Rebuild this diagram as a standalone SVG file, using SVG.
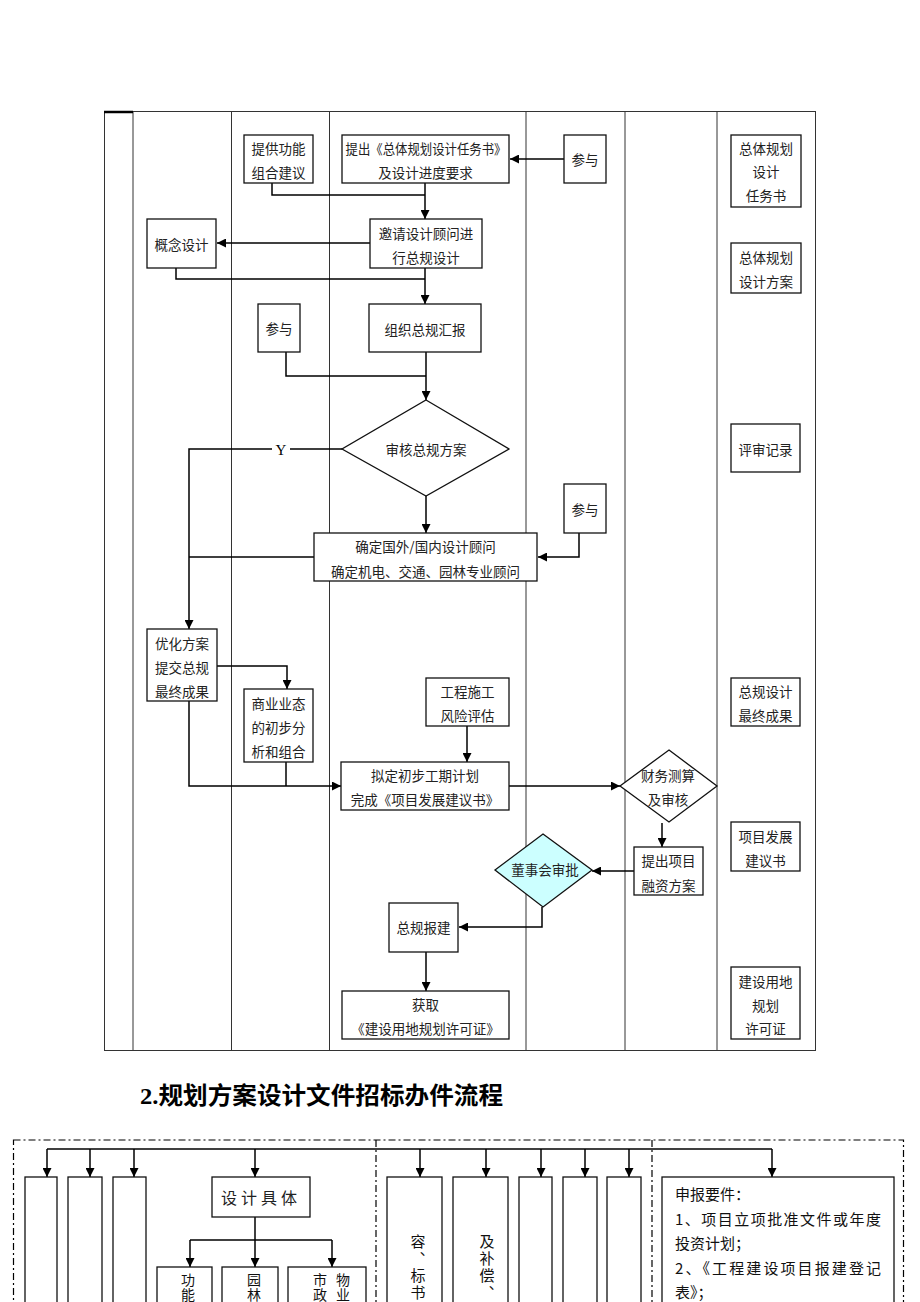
<svg xmlns="http://www.w3.org/2000/svg" width="920" height="1302" viewBox="0 0 920 1302">
<defs>
<style>
.lane{fill:none;stroke:#333;stroke-width:1}
.box{fill:#fff;stroke:#111;stroke-width:1.3}
.t{font-family:"Noto Sans CJK SC","Liberation Sans",sans-serif;font-size:13.5px;fill:#222;text-anchor:middle;dominant-baseline:central}
.c{fill:none;stroke:#000;stroke-width:1.5}
.ca{fill:none;stroke:#000;stroke-width:1.5;marker-end:url(#ah)}
.dd{fill:none;stroke:#000;stroke-width:1.2;stroke-dasharray:7 3 2 3}
.v{font-family:"Noto Sans CJK SC","Liberation Sans",sans-serif;font-size:15px;fill:#111;writing-mode:vertical-rl;letter-spacing:2px}
.vs{font-family:"Noto Sans CJK SC","Liberation Sans",sans-serif;font-size:14px;fill:#111;writing-mode:vertical-rl;letter-spacing:1px}
.r{font-family:"Noto Sans CJK SC","Liberation Sans",sans-serif;font-size:15px;fill:#111}
</style>
<marker id="ah" viewBox="0 0 10 10" refX="10" refY="5" markerWidth="9" markerHeight="9" orient="auto" markerUnits="userSpaceOnUse">
<path d="M0,0 L10,5 L0,10 z" fill="#000"/>
</marker>
</defs>
<rect width="920" height="1302" fill="#fff"/>

<g id="lanes">
<rect class="lane" x="104.5" y="111.5" width="711" height="939"/>
<line class="lane" x1="133" y1="111" x2="133" y2="1050"/>
<line class="lane" x1="231.5" y1="111" x2="231.5" y2="1050"/>
<line class="lane" x1="329.5" y1="111" x2="329.5" y2="1050"/>
<line class="lane" x1="526" y1="111" x2="526" y2="1050"/>
<line class="lane" x1="625" y1="111" x2="625" y2="1050"/>
<line class="lane" x1="717" y1="111" x2="717" y2="1050"/>
<line x1="104" y1="112" x2="133" y2="112" stroke="#000" stroke-width="2.5"/>
</g>

<g id="connectors">
<line class="ca" x1="606" y1="159" x2="510" y2="159"/>
<line class="ca" x1="425" y1="183" x2="425" y2="219"/>
<polyline class="c" points="272,183 272,195 425,195"/>
<line class="ca" x1="370" y1="243" x2="217" y2="243"/>
<polyline class="c" points="176,268 176,279 425,279"/>
<line class="ca" x1="425" y1="268" x2="425" y2="304"/>
<polyline class="c" points="286,352 286,376 426,376"/>
<line class="ca" x1="426" y1="352" x2="426" y2="400"/>
<polyline class="ca" points="342,449 189,449 189,629"/>
<line class="ca" x1="426" y1="496" x2="426" y2="533"/>
<line class="c" x1="314" y1="557" x2="189" y2="557"/>
<polyline class="ca" points="579,533 579,557 538,557"/>
<polyline class="ca" points="217,666 287,666 287,689"/>
<polyline class="ca" points="189,701 189,786 341,786"/>
<polyline class="c" points="286,762 286,786"/>
<line class="ca" x1="467" y1="726" x2="467" y2="762"/>
<line class="ca" x1="509" y1="786" x2="620" y2="786"/>
<line class="ca" x1="662" y1="823" x2="662" y2="847"/>
<line class="ca" x1="634" y1="871" x2="592" y2="871"/>
<polyline class="ca" points="542,907 542,927 459,927"/>
<line class="ca" x1="426" y1="952" x2="426" y2="991"/>
<rect x="272" y="441" width="18" height="17" fill="#fff"/>
<text x="281" y="450" font-family="Liberation Serif,serif" font-size="15" text-anchor="middle" dominant-baseline="central" fill="#000">Y</text>
</g>

<g id="n-tigong"><rect class="box" x="244" y="135" width="69" height="48"/><text class="t" x="278.5" y="148">提供功能</text><text class="t" x="278.5" y="172">组合建议</text></g>
<g id="n-tichu"><rect class="box" x="342" y="135" width="167" height="48"/><text class="t" x="426" y="148" textLength="161" lengthAdjust="spacingAndGlyphs">提出《总体规划设计任务书》</text><text class="t" x="425.5" y="172">及设计进度要求</text></g>
<g id="n-canyu1"><rect class="box" x="564" y="135" width="42" height="48"/><text class="t" x="585" y="159">参与</text></g>
<g id="n-doc1"><rect class="box" x="731" y="135" width="70" height="72"/><text class="t" x="766" y="148">总体规划</text><text class="t" x="766" y="171">设计</text><text class="t" x="766" y="195">任务书</text></g>
<g id="n-doc2"><rect class="box" x="731" y="243" width="70" height="50"/><text class="t" x="766" y="257">总体规划</text><text class="t" x="766" y="281">设计方案</text></g>
<g id="n-yaoqing"><rect class="box" x="370" y="219" width="112" height="49"/><text class="t" x="426" y="233">邀请设计顾问进</text><text class="t" x="426" y="257">行总规设计</text></g>
<g id="n-gainian"><rect class="box" x="147" y="219" width="69" height="49"/><text class="t" x="181.5" y="243.5">概念设计</text></g>
<g id="n-canyu2"><rect class="box" x="258" y="304" width="42" height="48"/><text class="t" x="279" y="328">参与</text></g>
<g id="n-zuzhi"><rect class="box" x="369" y="304" width="112" height="48"/><text class="t" x="425" y="329">组织总规汇报</text></g>
<g id="n-shenhe"><polygon class="box" points="426,400 509,449 426,496 342,449"/><text class="t" x="426" y="449">审核总规方案</text></g>
<g id="n-queding"><rect class="box" x="314" y="533" width="223" height="48"/><text class="t" x="425.5" y="546">确定国外/国内设计顾问</text><text class="t" x="425.5" y="571">确定机电、交通、园林专业顾问</text></g>
<g id="n-canyu3"><rect class="box" x="564" y="484" width="42" height="49"/><text class="t" x="585" y="509">参与</text></g>
<g id="n-doc3"><rect class="box" x="731" y="424" width="69" height="48"/><text class="t" x="765.5" y="449">评审记录</text></g>
<g id="n-youhua"><rect class="box" x="147" y="629" width="70" height="72"/><text class="t" x="182" y="643">优化方案</text><text class="t" x="182" y="667">提交总规</text><text class="t" x="182" y="691">最终成果</text></g>
<g id="n-shangye"><rect class="box" x="244" y="689" width="69" height="73"/><text class="t" x="278.5" y="703">商业业态</text><text class="t" x="278.5" y="727">的初步分</text><text class="t" x="278.5" y="751">析和组合</text></g>
<g id="n-gongcheng"><rect class="box" x="426" y="678" width="83" height="48"/><text class="t" x="467.5" y="691">工程施工</text><text class="t" x="467.5" y="715">风险评估</text></g>
<g id="n-niding"><rect class="box" x="341" y="762" width="168" height="48"/><text class="t" x="425" y="775">拟定初步工期计划</text><text class="t" x="425" y="799">完成《项目发展建议书》</text></g>
<g id="n-caiwu"><polygon class="box" points="669,750 717,786 669,822 620,786"/><text class="t" x="668" y="775">财务测算</text><text class="t" x="668" y="799">及审核</text></g>
<g id="n-doc4"><rect class="box" x="731" y="678" width="69" height="48"/><text class="t" x="765.5" y="691">总规设计</text><text class="t" x="765.5" y="715">最终成果</text></g>
<g id="n-doc5"><rect class="box" x="731" y="822" width="69" height="49"/><text class="t" x="765.5" y="836">项目发展</text><text class="t" x="765.5" y="860">建议书</text></g>
<g id="n-rongzi"><rect class="box" x="634" y="847" width="69" height="48"/><text class="t" x="668.5" y="860">提出项目</text><text class="t" x="668.5" y="885">融资方案</text></g>
<g id="n-dongshi"><polygon points="543,834 592,870 543,907 495,870" fill="#ccffff" stroke="#111" stroke-width="1.3"/><text class="t" x="545" y="869">董事会审批</text></g>
<g id="n-baojian"><rect class="box" x="389" y="903" width="69" height="49"/><text class="t" x="423.5" y="927">总规报建</text></g>
<g id="n-huoqu"><rect class="box" x="342" y="991" width="167" height="48"/><text class="t" x="425.5" y="1004">获取</text><text class="t" x="425.5" y="1028">《建设用地规划许可证》</text></g>
<g id="n-doc6"><rect class="box" x="731" y="967" width="69" height="72"/><text class="t" x="765.5" y="981">建设用地</text><text class="t" x="765.5" y="1005">规划</text><text class="t" x="765.5" y="1028">许可证</text></g>

<g id="title"><text x="140" y="1104" font-family="Liberation Serif,Noto Sans CJK SC,serif" font-size="24" font-weight="bold" fill="#000" textLength="363" lengthAdjust="spacingAndGlyphs">2.规划方案设计文件招标办件流程</text></g>

<g id="frames">
<rect class="dd" x="13.5" y="1140" width="890" height="200"/>
<line class="dd" x1="376" y1="1140" x2="376" y2="1310"/>
<line class="dd" x1="652" y1="1140" x2="652" y2="1310"/>
</g>

<g id="connectors2">
<line class="c" x1="47" y1="1149" x2="772" y2="1149"/>
<line class="ca" x1="47" y1="1149" x2="47" y2="1177"/>
<line class="ca" x1="90" y1="1149" x2="90" y2="1177"/>
<line class="ca" x1="134" y1="1149" x2="134" y2="1177"/>
<line class="ca" x1="255" y1="1149" x2="255" y2="1177"/>
<line class="ca" x1="420" y1="1149" x2="420" y2="1177"/>
<line class="ca" x1="486" y1="1149" x2="486" y2="1177"/>
<line class="ca" x1="541" y1="1149" x2="541" y2="1177"/>
<line class="ca" x1="585" y1="1149" x2="585" y2="1177"/>
<line class="ca" x1="629" y1="1149" x2="629" y2="1177"/>
<line class="ca" x1="772" y1="1149" x2="772" y2="1177"/>
<line class="c" x1="255" y1="1217" x2="255" y2="1240"/>
<line class="c" x1="190" y1="1240" x2="332" y2="1240"/>
<line class="ca" x1="190" y1="1240" x2="190" y2="1267"/>
<line class="ca" x1="255" y1="1240" x2="255" y2="1267"/>
<line class="ca" x1="332" y1="1240" x2="332" y2="1267"/>
</g>

<g id="b-col1"><rect class="box" x="25" y="1177" width="32" height="140"/></g>
<g id="b-col2"><rect class="box" x="68" y="1177" width="34" height="140"/></g>
<g id="b-col3"><rect class="box" x="113" y="1177" width="33" height="140"/></g>
<g id="b-sheji"><rect class="box" x="212" y="1177" width="98" height="40"/><text class="t" x="261" y="1197" style="font-size:16px;letter-spacing:4px">设计具体</text></g>
<g id="b-gongneng"><rect class="box" x="157" y="1267" width="55" height="50"/><text class="vs" x="188" y="1273">功能</text></g>
<g id="b-yuanlin"><rect class="box" x="222" y="1267" width="56" height="50"/><text class="vs" x="254" y="1273">园林</text></g>
<g id="b-shizheng"><rect class="box" x="288" y="1267" width="78" height="50"/><text class="vs" x="320" y="1273">市政</text><text class="vs" x="343" y="1273">物业</text></g>
<g id="b-col4"><rect class="box" x="387" y="1177" width="55" height="140"/><text class="v" x="418" y="1234">容、标书</text></g>
<g id="b-col5"><rect class="box" x="453" y="1177" width="55" height="140"/><text class="v" x="487" y="1234">及补偿、</text></g>
<g id="b-col6"><rect class="box" x="519" y="1177" width="33" height="140"/></g>
<g id="b-col7"><rect class="box" x="563" y="1177" width="34" height="140"/></g>
<g id="b-col8"><rect class="box" x="607" y="1177" width="34" height="140"/></g>
<g id="b-shenbao"><rect class="box" x="662" y="1177" width="232" height="140"/>
<text class="r" x="675" y="1200">申报要件：</text>
<text class="r" x="675" y="1225" textLength="206" lengthAdjust="spacing">1、项目立项批准文件或年度</text>
<text class="r" x="675" y="1249">投资计划；</text>
<text class="r" x="675" y="1274" textLength="206" lengthAdjust="spacing">2、《工程建设项目报建登记</text>
<text class="r" x="675" y="1298">表》；</text>
</g>
</svg>
